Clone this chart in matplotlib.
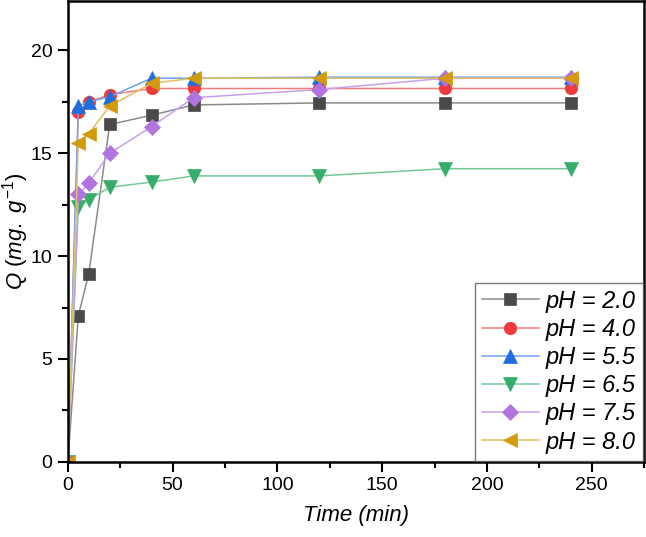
import matplotlib.pyplot as plt
from matplotlib.ticker import MultipleLocator

plt.rcParams['font.family'] = ['Liberation Sans', 'DejaVu Sans']
plt.rcParams['mathtext.fontset'] = 'custom'
plt.rcParams['mathtext.it'] = 'Liberation Sans:italic'
plt.rcParams['mathtext.rm'] = 'Liberation Sans'

time = [0, 5, 10, 20, 40, 60, 120, 180, 240]

labels = ['pH = 2.0', 'pH = 4.0', 'pH = 5.5', 'pH = 6.5', 'pH = 7.5', 'pH = 8.0']
q_ph20 = [0, 7.1, 9.15, 16.4, 16.85, 17.35, 17.45, 17.45, 17.45]
q_ph40 = [0, 17.0, 17.5, 17.85, 18.15, 18.15, 18.15, 18.15, 18.15]
q_ph55 = [0, 17.3, 17.5, 17.75, 18.65, 18.65, 18.7, 18.7, 18.7]
q_ph65 = [0, 12.4, 12.75, 13.35, 13.6, 13.9, 13.9, 14.25, 14.25]
q_ph75 = [0, 13.0, 13.55, 15.0, 16.3, 17.7, 18.1, 18.65, 18.65]
q_ph80 = [0, 15.5, 15.95, 17.3, 18.4, 18.65, 18.65, 18.65, 18.65]
series = [q_ph20, q_ph40, q_ph55, q_ph65, q_ph75, q_ph80]

marker_colors = ['#4a4a4a', '#ef3b3b', '#1f6fdf', '#36ad6a', '#b173e0', '#d39a0b']
line_colors = ['#8a8a8a', '#f47a7a', '#6fa3ec', '#74c799', '#c8a0ea', '#e2bf63']
markers = ['s', 'o', '^', 'v', 'D', '<']
sizes = [8, 9, 10, 10, 8, 10]

fig = plt.figure(figsize=(6.46, 5.37), dpi=100)
ax = fig.add_axes([0.105, 0.14, 0.892, 0.858])

for y, lab, mc, lc, m, s in zip(series, labels, marker_colors, line_colors, markers, sizes):
    ax.plot(time, y, color=lc, lw=1.1, marker=m, markersize=s,
            markerfacecolor=mc, markeredgecolor=mc, markeredgewidth=0.5, label=lab)

ax.set_xlim(0, 275)
ax.set_ylim(0, 22.4)
ax.xaxis.set_major_locator(MultipleLocator(50))
ax.xaxis.set_minor_locator(MultipleLocator(25))
ax.yaxis.set_major_locator(MultipleLocator(5))
ax.yaxis.set_minor_locator(MultipleLocator(2.5))
ax.tick_params(which='major', direction='out', length=7, width=1.5, labelsize=14, pad=4)
ax.tick_params(which='minor', direction='out', length=4, width=1.5)
for sp in ax.spines.values():
    sp.set_linewidth(1.8)

ax.set_xlabel('Time (min)', fontsize=16, style='italic', labelpad=8)
ax.set_ylabel(r'$Q\ (mg.\ g^{-1})$', fontsize=16, labelpad=0)

leg = ax.legend(loc='lower right', handlelength=2.4, handletextpad=0.3, frameon=True,
                fancybox=False, borderaxespad=0.05, labelspacing=0.22, borderpad=0.3,
                prop={'style': 'italic', 'size': 17})
leg.get_frame().set_edgecolor('#555555')
leg.get_frame().set_linewidth(1.0)

plt.savefig('out.png', dpi=100)
